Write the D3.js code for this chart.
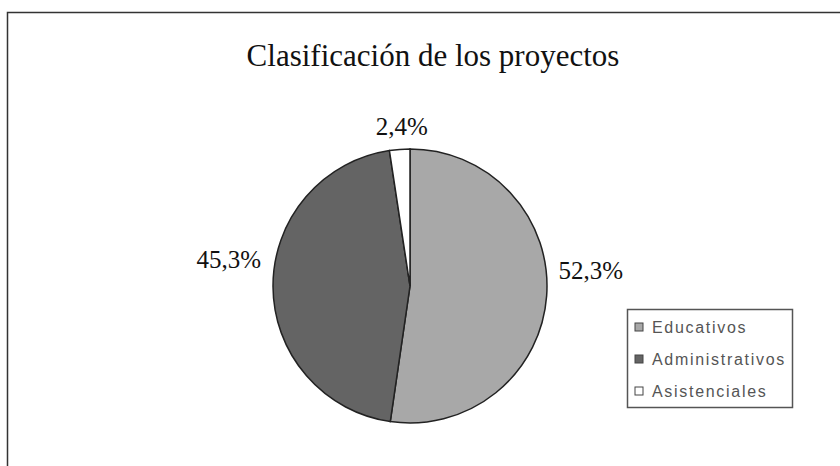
<!DOCTYPE html>
<html>
<head>
<meta charset="utf-8">
<script src="https://cdn.jsdelivr.net/npm/d3@7"></script>
<style>
  body { margin: 0; background: #fff; }
</style>
</head>
<body>
<div id="chart"></div>
<script>
const categories = ["Educativos", "Administrativos", "Asistenciales"];
const values = [52.3, 45.3, 2.4];
const labels = ["52,3%", "45,3%", "2,4%"];
const colors = ["#a8a8a8", "#646464", "#ffffff"];

const width = 840;
const height = 466;
const cx = 410, cy = 286, radius = 137;

const svg = d3.select("#chart")
  .append("svg")
  .attr("width", width)
  .attr("height", height);

// outer frame, runs past the right and bottom edges
svg.append("rect")
  .attr("x", 7.5)
  .attr("y", 12.5)
  .attr("width", width)
  .attr("height", height)
  .attr("fill", "#fff")
  .attr("stroke", "#333")
  .attr("stroke-width", 1.5);

svg.append("text")
  .attr("x", 433)
  .attr("y", 66)
  .attr("text-anchor", "middle")
  .style("font-family", "'Liberation Serif', 'DejaVu Serif', serif")
  .style("font-size", "31px")
  .style("fill", "#111")
  .text("Clasificación de los proyectos");

const data = categories.map((c, i) => ({ name: c, value: values[i], label: labels[i], color: colors[i] }));

const pie = d3.pie()
  .sort(null)
  .value(d => d.value);

const arc = d3.arc()
  .innerRadius(0)
  .outerRadius(radius);

const labelArc = d3.arc()
  .innerRadius(radius + 12)
  .outerRadius(radius + 12);

const chart = svg.append("g")
  .attr("transform", `translate(${cx},${cy})`);

const arcs = pie(data);

chart.selectAll(".slice")
  .data(arcs)
  .enter()
  .append("path")
  .attr("class", "slice")
  .attr("d", arc)
  .attr("fill", d => d.data.color)
  .attr("stroke", "#222")
  .attr("stroke-width", 1.5);

chart.selectAll(".label")
  .data(arcs)
  .enter()
  .append("text")
  .attr("class", "label")
  .each(function(d) {
    const [x, y] = labelArc.centroid(d);
    const side = Math.abs(x) < 30 ? "middle" : (x > 0 ? "start" : "end");
    d3.select(this)
      .attr("x", side === "middle" ? x + 3 : x)
      .attr("y", side === "middle" ? y - 2 : y - 18)
      .attr("text-anchor", side);
  })
  .style("font-family", "'Liberation Serif', 'DejaVu Serif', serif")
  .style("font-size", "25px")
  .style("fill", "#111")
  .text(d => d.data.label);

// legend
const legend = svg.append("g")
  .attr("transform", "translate(627,309)");

legend.append("rect")
  .attr("x", 0.5)
  .attr("y", 0.5)
  .attr("width", 165)
  .attr("height", 98)
  .attr("fill", "#fff")
  .attr("stroke", "#555")
  .attr("stroke-width", 1.5);

const item = legend.selectAll(".item")
  .data(data)
  .enter()
  .append("g")
  .attr("class", "item")
  .attr("transform", (d, i) => `translate(8,${18 + i * 32})`);

item.append("rect")
  .attr("x", 0)
  .attr("y", -4)
  .attr("width", 8)
  .attr("height", 8)
  .attr("fill", d => d.color)
  .attr("stroke", "#444")
  .attr("stroke-width", 1);

item.append("text")
  .attr("x", 17)
  .attr("y", 0)
  .attr("dy", "0.35em")
  .style("font-family", "'Liberation Sans', Arial, sans-serif")
  .style("font-size", "16px")
  .style("letter-spacing", "1.7px")
  .style("fill", "#555")
  .text(d => d.name);
</script>
</body>
</html>
